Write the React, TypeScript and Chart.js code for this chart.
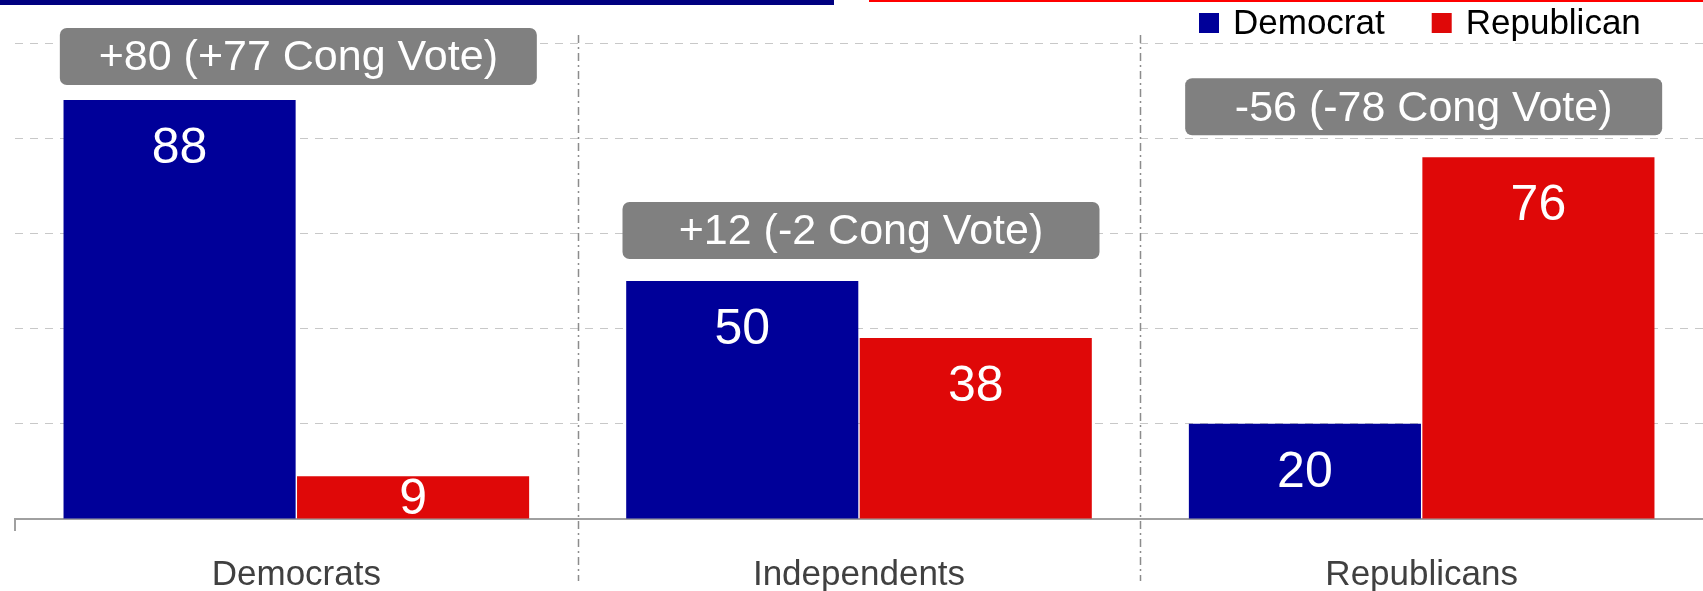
import React, { useEffect, useRef } from "react";
import { Chart, registerables } from "chart.js";

Chart.register(...registerables);

const categories = ["Democrats", "Independents", "Republicans"];
const seriesNames = ["Democrat", "Republican"];
const democratValues = [88, 50, 20];
const republicanValues = [9, 38, 76];
const gapLabels = ["+80 (+77 Cong Vote)", "+12 (-2 Cong Vote)", "-56 (-78 Cong Vote)"];
const yTicks = [0, 20, 40, 60, 80, 100];

const BLUE = "#000099";
const RED = "#DF0808";
const FONT = "'Liberation Sans', Arial, sans-serif";

const W = 1703;
const H = 591;

const overlayPlugin = {
  id: "overlay",
  beforeDraw(chart: any) {
    const ctx = chart.ctx;
    ctx.save();
    ctx.fillStyle = "#ffffff";
    ctx.fillRect(0, 0, chart.width, chart.height);
    ctx.fillStyle = "#000080";
    ctx.fillRect(0, 0, 834, 5);
    ctx.fillStyle = "#FF0000";
    ctx.fillRect(869, 0, chart.width - 869, 2);
    ctx.restore();
  },
  beforeDatasetsDraw(chart: any) {
    const ctx = chart.ctx;
    const xs = chart.scales.x;
    const area = chart.chartArea;
    ctx.save();
    ctx.strokeStyle = "#8C8C8C";
    ctx.lineWidth = 1.5;
    ctx.setLineDash([8, 4, 2, 4]);
    for (let i = 1; i < categories.length; i++) {
      const x = Math.round((xs.getPixelForValue(i - 1) + xs.getPixelForValue(i)) / 2) + 0.5;
      ctx.beginPath();
      ctx.moveTo(x, 35);
      ctx.lineTo(x, 581);
      ctx.stroke();
    }
    ctx.setLineDash([]);
    ctx.strokeStyle = "#A0A0A0";
    ctx.lineWidth = 2;
    ctx.beginPath();
    ctx.moveTo(area.left, area.bottom);
    ctx.lineTo(area.left, area.bottom + 12);
    ctx.stroke();
    ctx.restore();
  },
  afterDatasetsDraw(chart: any) {
    const ctx = chart.ctx;
    const xs = chart.scales.x;
    ctx.save();
    // value labels
    ctx.fillStyle = "#ffffff";
    ctx.font = `50px ${FONT}`;
    ctx.textAlign = "center";
    ctx.textBaseline = "middle";
    chart.data.datasets.forEach((ds: any, di: number) => {
      const meta = chart.getDatasetMeta(di);
      meta.data.forEach((bar: any, j: number) => {
        const top = bar.y;
        const base = bar.base;
        const y = Math.min(top + 47, (top + base) / 2 + 1);
        ctx.fillText(String(ds.data[j]), bar.x, y + 2);
      });
    });
    // gap boxes
    const boxW = 477;
    const boxH = 57;
    categories.forEach((_, i) => {
      let minTop = Infinity;
      chart.data.datasets.forEach((_ds: any, di: number) => {
        const bar = chart.getDatasetMeta(di).data[i];
        minTop = Math.min(minTop, bar.y);
      });
      const top = Math.max(28, minTop - 79);
      const cx = xs.getPixelForValue(i) + 2;
      const left = cx - boxW / 2;
      ctx.fillStyle = "#808080";
      ctx.beginPath();
      (ctx as any).roundRect(left, top, boxW, boxH, 7);
      ctx.fill();
      ctx.fillStyle = "#ffffff";
      ctx.font = `43px ${FONT}`;
      ctx.textAlign = "center";
      ctx.textBaseline = "middle";
      ctx.fillText(gapLabels[i], cx, top + boxH / 2 + 2);
    });
    // legend
    let x = 1199;
    ctx.font = `35px ${FONT}`;
    ctx.textAlign = "left";
    ctx.textBaseline = "middle";
    chart.data.datasets.forEach((ds: any) => {
      ctx.fillStyle = ds.backgroundColor;
      ctx.fillRect(x, 13, 20, 20);
      ctx.fillStyle = "#000000";
      ctx.fillText(ds.label, x + 34, 24);
      x += 34 + ctx.measureText(ds.label).width + 47;
    });
    ctx.restore();
  },
};

export default function App() {
  const ref = useRef<HTMLCanvasElement | null>(null);
  useEffect(() => {
    document.body.style.margin = "0";
    const canvas = ref.current!;
    const chart = new Chart(canvas, {
      type: "bar",
      data: {
        labels: categories,
        datasets: [
          { label: seriesNames[0], data: democratValues, backgroundColor: BLUE, borderWidth: 0 },
          { label: seriesNames[1], data: republicanValues, backgroundColor: RED, borderWidth: 0 },
        ],
      },
      options: {
        animation: false,
        responsive: false,
        maintainAspectRatio: false,
        devicePixelRatio: 1,
        layout: { padding: { left: 15, right: 0, top: 43, bottom: 0 } },
        plugins: { legend: { display: false }, tooltip: { enabled: false } },
        datasets: { bar: { categoryPercentage: 0.83, barPercentage: 0.994 } },
        scales: {
          x: {
            grid: { display: false, drawTicks: false },
            border: { display: true, color: "#A0A0A0", width: 2 },
            ticks: { color: "#404040", font: { family: FONT, size: 35 }, padding: 35, maxRotation: 0 },
            afterFit: (s: any) => { s.height = 72; },
          },
          y: {
            min: yTicks[0],
            max: yTicks[yTicks.length - 1],
            afterBuildTicks: (s: any) => { s.ticks = yTicks.map((v) => ({ value: v })); },
            ticks: { display: false },
            grid: {
              color: (c: any) => (c.tick && c.tick.value === 0 ? "rgba(0,0,0,0)" : "#C8C8C8"),
              lineWidth: 1,
              drawTicks: false,
            },
            border: { display: false, dash: [8, 7] },
            afterFit: (s: any) => { s.width = 0; },
          },
        },
      },
      plugins: [overlayPlugin],
    });
    return () => chart.destroy();
  }, []);
  return (
    <div style={{ position: "fixed", left: 0, top: 0, width: W, height: H }}>
      <canvas ref={ref} width={W} height={H} style={{ width: W, height: H, display: "block" }} />
    </div>
  );
}
